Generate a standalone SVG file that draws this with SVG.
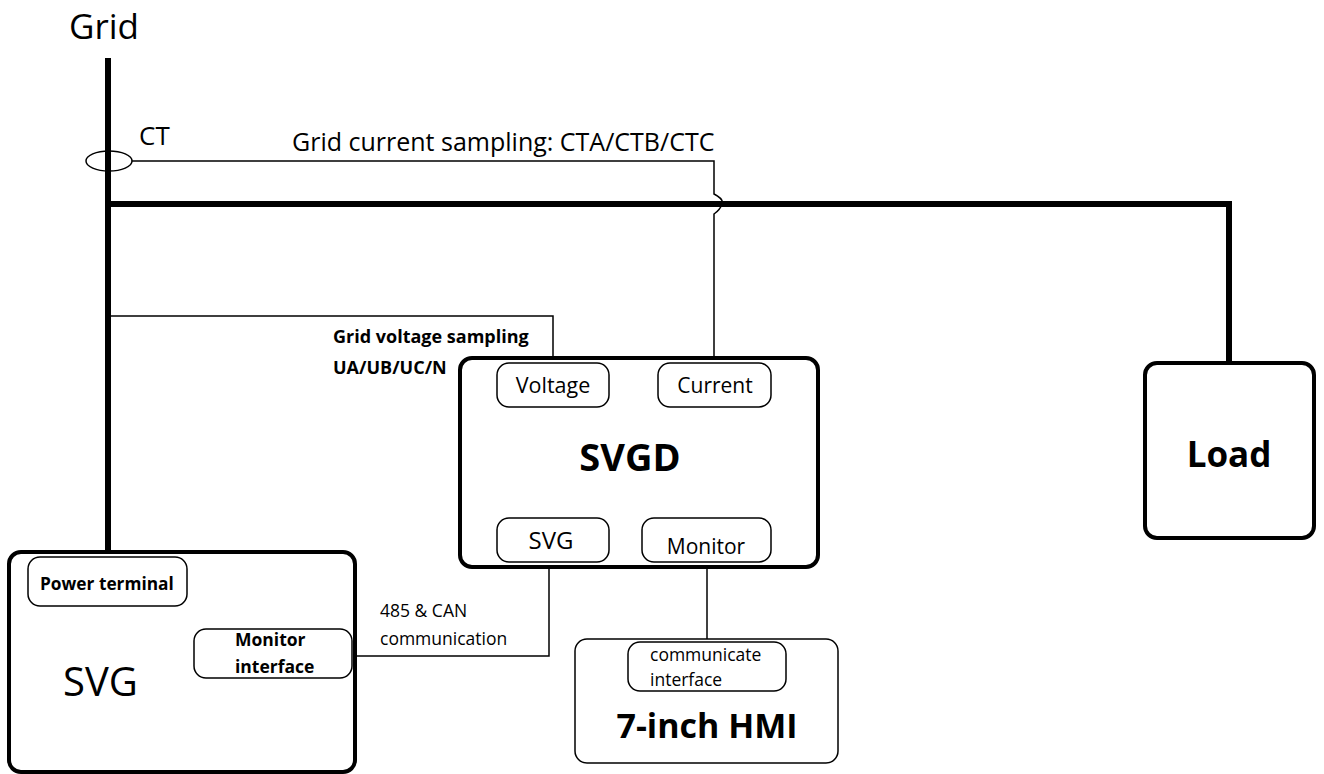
<svg xmlns="http://www.w3.org/2000/svg" width="1324" height="774" viewBox="0 0 1324 774">
<style>
text{font-family:"Open Sans","Noto Sans","DejaVu Sans",sans-serif;fill:#000}
.b{font-weight:bold}
.thick{fill:none;stroke:#000;stroke-width:6}
.thin{fill:none;stroke:#000;stroke-width:1.5}
.main{fill:#fff;stroke:#000;stroke-width:4}
.sub{fill:#fff;stroke:#000;stroke-width:1.5}
</style>
<rect width="1324" height="774" fill="#fff"/>
<text x="69" y="39" font-size="35">Grid</text>
<g id="connectors">
<path class="thick" d="M108,58 V556"/>
<path class="thick" d="M108,204 H1229 V365"/>
<path class="thin" d="M132,161 H714 V194 Q724,199 722,204 Q720,210 714,214 V365"/>
<path class="thin" d="M108,316 H553 V365"/>
<path class="thin" d="M549,562 V656 H356"/>
<path class="thin" d="M707,562 V643"/>
</g>
<g id="ct">
<ellipse cx="109" cy="161" rx="23" ry="10" class="thin"/>
<text x="139" y="145" font-size="26">CT</text>
</g>
<text x="292" y="151" font-size="25">Grid current sampling: CTA/CTB/CTC</text>
<text x="333" y="343" font-size="18" class="b">Grid voltage sampling</text>
<text x="333" y="374" font-size="18" class="b">UA/UB/UC/N</text>
<text x="380" y="617" font-size="17.5">485 &amp; CAN</text>
<text x="380" y="645" font-size="17.5">communication</text>
<g id="svgd">
<rect class="main" x="460" y="358" width="358" height="209" rx="12"/>
<text x="630" y="471" font-size="38" class="b" text-anchor="middle">SVGD</text>
<g id="svgd-voltage"><rect class="sub" x="497" y="363" width="112" height="44" rx="12"/><text x="553" y="393" font-size="21.5" text-anchor="middle">Voltage</text></g>
<g id="svgd-current"><rect class="sub" x="658" y="363" width="113" height="44" rx="12"/><text x="715" y="393" font-size="21" text-anchor="middle">Current</text></g>
<g id="svgd-svg"><rect class="sub" x="497" y="518" width="112" height="44" rx="12"/><text x="551" y="549" font-size="24" text-anchor="middle">SVG</text></g>
<g id="svgd-monitor"><rect class="sub" x="642" y="518" width="129" height="44" rx="12"/><text x="706" y="554" font-size="21" text-anchor="middle">Monitor</text></g>
</g>
<g id="svg">
<rect class="main" x="9" y="552" width="346" height="220" rx="12"/>
<text x="63" y="696" font-size="40">SVG</text>
<g id="power-terminal"><rect class="sub" x="28" y="557" width="159" height="49" rx="12"/><text x="40" y="590" font-size="17.3" class="b">Power terminal</text></g>
<g id="monitor-interface"><rect class="sub" x="194" y="629" width="158" height="49" rx="12"/><text x="235" y="646" font-size="17.5" class="b">Monitor</text><text x="235" y="673" font-size="17.5" class="b">interface</text></g>
</g>
<g id="hmi">
<rect class="sub" x="575" y="639" width="263" height="124" rx="12"/>
<text x="707" y="738" font-size="34" class="b" text-anchor="middle">7-inch HMI</text>
<g id="communicate-interface"><rect class="sub" x="628" y="642" width="158" height="49" rx="12"/><text x="650" y="661" font-size="17.5">communicate</text><text x="650" y="686" font-size="17.5">interface</text></g>
</g>
<g id="load">
<rect class="main" x="1145" y="363" width="169" height="175" rx="12"/>
<text x="1229" y="467" font-size="35" class="b" text-anchor="middle">Load</text>
</g>
</svg>
